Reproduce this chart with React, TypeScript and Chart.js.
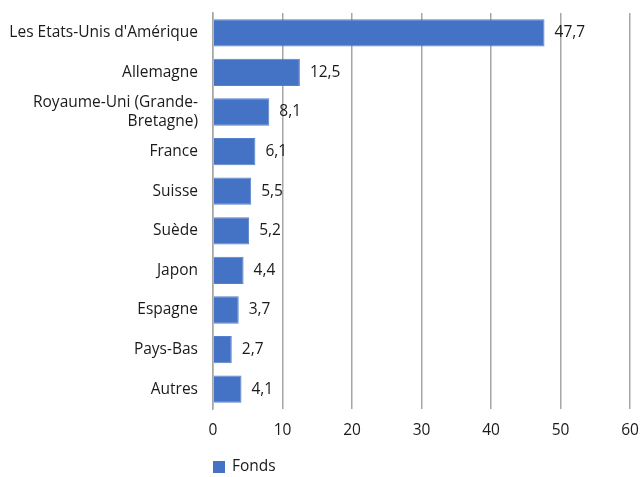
import React, { useEffect, useRef } from "react";
import { Chart, registerables } from "chart.js";

Chart.register(...registerables);

const categories: (string | string[])[] = [
  "Les Etats-Unis d'Amérique",
  "Allemagne",
  ["Royaume-Uni (Grande-", "Bretagne)"],
  "France",
  "Suisse",
  "Suède",
  "Japon",
  "Espagne",
  "Pays-Bas",
  "Autres",
];
const fonds: number[] = [47.7, 12.5, 8.1, 6.1, 5.5, 5.2, 4.4, 3.7, 2.7, 4.1];
const seriesName = "Fonds";
const xTicks = [0, 10, 20, 30, 40, 50, 60];

const FONT = "'Open Sans', 'Noto Sans', sans-serif";
const FS = 15.5;
const TEXT = "#1a1a1a";
const BAR = "#4472C4";

const valueLabels = {
  id: "valueLabels",
  afterDatasetsDraw(chart: any) {
    const ctx = chart.ctx;
    const meta = chart.getDatasetMeta(0);
    ctx.save();
    ctx.font = `${FS}px ${FONT}`;
    ctx.fillStyle = TEXT;
    ctx.textAlign = "left";
    ctx.textBaseline = "middle";
    meta.data.forEach((bar: any, i: number) => {
      const v = fonds[i];
      ctx.fillText(v.toFixed(1).replace(".", ","), bar.x + 10, bar.y);
    });
    ctx.restore();
  },
};

const customLegend = {
  id: "customLegend",
  afterDraw(chart: any) {
    const ctx = chart.ctx;
    const x = chart.chartArea.left;
    const y = 467;
    ctx.save();
    ctx.fillStyle = BAR;
    ctx.fillRect(x, y - 6, 12, 12);
    ctx.font = `${FS}px ${FONT}`;
    ctx.fillStyle = TEXT;
    ctx.textAlign = "left";
    ctx.textBaseline = "middle";
    ctx.fillText(seriesName, x + 19, y);
    ctx.restore();
  },
};

export default function App() {
  const ref = useRef<HTMLCanvasElement | null>(null);
  useEffect(() => {
    if (!ref.current) return;
    const chart = new Chart(ref.current, {
      type: "bar",
      data: {
        labels: categories,
        datasets: [
          {
            label: seriesName,
            data: fonds,
            backgroundColor: BAR,
            borderColor: "#5580cb",
            borderWidth: 1,
            barPercentage: 0.69,
            categoryPercentage: 1,
          },
        ],
      },
      options: {
        indexAxis: "y",
        animation: false,
        responsive: false,
        maintainAspectRatio: false,
        layout: { padding: { top: 13, right: 11, left: 0, bottom: 24 } },
        plugins: {
          legend: { display: false },
          tooltip: { enabled: false },
        },
        scales: {
          x: {
            min: 0,
            max: 60,
            afterBuildTicks: (s: any) => {
              s.ticks = xTicks.map((v) => ({ value: v }));
            },
            afterFit: (s: any) => {
              s.height = 44;
              s.paddingLeft = 0;
              s.paddingRight = 0;
            },
            grid: { color: "#a6a6a6", lineWidth: 1.5, drawTicks: false },
            border: { display: false },
            ticks: {
              padding: 12,
              color: TEXT,
              font: { family: FONT, size: FS },
            },
          },
          y: {
            afterFit: (s: any) => {
              s.width = 213;
              s.paddingTop = 0;
              s.paddingBottom = 0;
            },
            grid: { display: false, drawTicks: false },
            border: { display: true, color: "#a6a6a6", width: 1.5 },
            ticks: {
              autoSkip: false,
              padding: 15,
              color: TEXT,
              font: { family: FONT, size: FS, lineHeight: 1.2 },
            },
          },
        },
      },
      plugins: [valueLabels, customLegend],
    });
    return () => chart.destroy();
  }, []);
  return (
    <div style={{ position: "fixed", left: 0, top: 0, width: 641, height: 477, background: "#fff" }}>
      <canvas ref={ref} width={641} height={477} />
    </div>
  );
}
